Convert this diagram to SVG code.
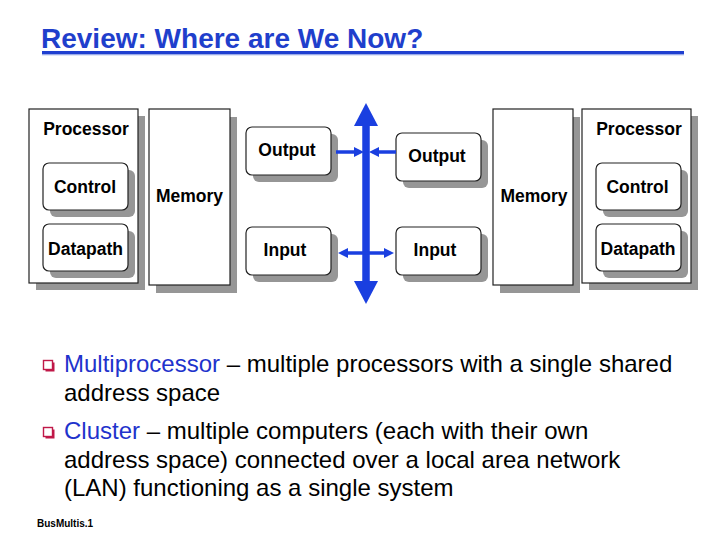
<svg xmlns="http://www.w3.org/2000/svg" width="720" height="540" viewBox="0 0 720 540">
<style>
.sh{fill:#969696}
.box{fill:#fff;stroke:#222;stroke-width:1.2}
.lbl{font-family:"Liberation Sans",Arial,sans-serif;font-weight:bold;font-size:17.5px;fill:#000;text-anchor:middle}
.body{font-family:"Liberation Sans",Arial,sans-serif;font-size:24px;fill:#000}
.kw{fill:#1f33cc}
.bus{stroke:#1a3fe0;fill:none}
</style>
<defs>
<marker id="ah" viewBox="0 0 10 10" refX="0" refY="5" markerWidth="10" markerHeight="10" markerUnits="userSpaceOnUse" orient="auto-start-reverse">
<path d="M0,0 L10,5 L0,10 z" fill="#1a3fe0"/>
</marker>
<marker id="bh" viewBox="0 0 23 24" refX="0" refY="12" markerWidth="23" markerHeight="24" markerUnits="userSpaceOnUse" orient="auto-start-reverse">
<path d="M0,0 L23,12 L0,24 z" fill="#1a3fe0"/>
</marker>
<g id="bullet">
<rect x="2.5" y="2.5" width="9" height="9" fill="#c01848"/>
<rect x="0.5" y="0.5" width="9" height="9" fill="#fff" stroke="#c01848" stroke-width="1.4"/>
</g>
</defs>
<rect width="720" height="540" fill="#fff"/>

<g id="title">
<text x="41" y="48" font-family="'Liberation Sans',Arial,sans-serif" font-weight="bold" font-size="28" fill="#1f3fcc">Review: Where are We Now?</text>
<rect x="42" y="51" width="642" height="3" fill="#1f3fd0"/>
<rect x="42" y="54" width="642" height="1.3" fill="#9aaae8"/>
</g>

<g id="proc-left">
<rect class="sh" x="36" y="116" width="109" height="174"/>
<rect class="box" x="29" y="109" width="109" height="174"/>
<text class="lbl" x="86" y="135">Processor</text>
</g>
<g id="control-left">
<rect class="sh" x="50" y="170" width="85" height="47" rx="6"/>
<rect class="box" x="43" y="163" width="85" height="47" rx="6"/>
<text class="lbl" x="85" y="193">Control</text>
</g>
<g id="datapath-left">
<rect class="sh" x="50" y="231" width="85" height="47" rx="6"/>
<rect class="box" x="43" y="224" width="85" height="47" rx="6"/>
<text class="lbl" x="85.5" y="255">Datapath</text>
</g>
<g id="mem-left">
<rect class="sh" x="156" y="117" width="81" height="176"/>
<rect class="box" x="149" y="109" width="81" height="176"/>
<text class="lbl" x="189.5" y="202">Memory</text>
</g>
<g id="out-left">
<rect class="sh" x="253" y="134" width="85" height="48" rx="6"/>
<rect class="box" x="246" y="127" width="85" height="48" rx="6"/>
<text class="lbl" x="287" y="156">Output</text>
</g>
<g id="in-left">
<rect class="sh" x="253" y="234" width="85" height="48" rx="6"/>
<rect class="box" x="246" y="227" width="85" height="48" rx="6"/>
<text class="lbl" x="285" y="256">Input</text>
</g>
<g id="out-right">
<rect class="sh" x="403" y="140" width="85" height="48" rx="6"/>
<rect class="box" x="396" y="133" width="85" height="48" rx="6"/>
<text class="lbl" x="437" y="162">Output</text>
</g>
<g id="in-right">
<rect class="sh" x="403" y="234" width="85" height="48" rx="6"/>
<rect class="box" x="396" y="227" width="85" height="48" rx="6"/>
<text class="lbl" x="435" y="256">Input</text>
</g>
<g id="mem-right">
<rect class="sh" x="500" y="117" width="80" height="176"/>
<rect class="box" x="493" y="109" width="80" height="176"/>
<text class="lbl" x="534" y="202">Memory</text>
</g>
<g id="proc-right">
<rect class="sh" x="589" y="116" width="109" height="174"/>
<rect class="box" x="582" y="109" width="109" height="174"/>
<text class="lbl" x="639" y="135">Processor</text>
</g>
<g id="control-right">
<rect class="sh" x="603" y="170" width="85" height="47" rx="6"/>
<rect class="box" x="596" y="163" width="85" height="47" rx="6"/>
<text class="lbl" x="637.5" y="193">Control</text>
</g>
<g id="datapath-right">
<rect class="sh" x="603" y="231" width="85" height="47" rx="6"/>
<rect class="box" x="596" y="224" width="85" height="47" rx="6"/>
<text class="lbl" x="638" y="255">Datapath</text>
</g>

<g id="connectors">
<line class="bus" x1="366" y1="126" x2="366" y2="281" stroke-width="7.5" marker-start="url(#bh)" marker-end="url(#bh)"/>
<line class="bus" x1="336" y1="152" x2="354" y2="152" stroke-width="3.5" marker-end="url(#ah)"/>
<line class="bus" x1="396" y1="152" x2="379" y2="152" stroke-width="3.5" marker-end="url(#ah)"/>
<line class="bus" x1="348" y1="253" x2="384" y2="253" stroke-width="3.5" marker-start="url(#ah)" marker-end="url(#ah)"/>
</g>

<g id="bullets">
<use href="#bullet" x="43" y="360"/>
<text class="body" x="64" y="372"><tspan class="kw">Multiprocessor</tspan> – multiple processors with a single shared</text>
<text class="body" x="64" y="401">address space</text>
<use href="#bullet" x="43" y="427"/>
<text class="body" x="64" y="439"><tspan class="kw">Cluster</tspan> – multiple computers (each with their own</text>
<text class="body" x="64" y="468">address space) connected over a local area network</text>
<text class="body" x="64" y="496">(LAN) functioning as a single system</text>
</g>

<text x="37" y="527" font-family="'Liberation Sans',Arial,sans-serif" font-weight="bold" font-size="10" fill="#000">BusMultis.1</text>
</svg>
